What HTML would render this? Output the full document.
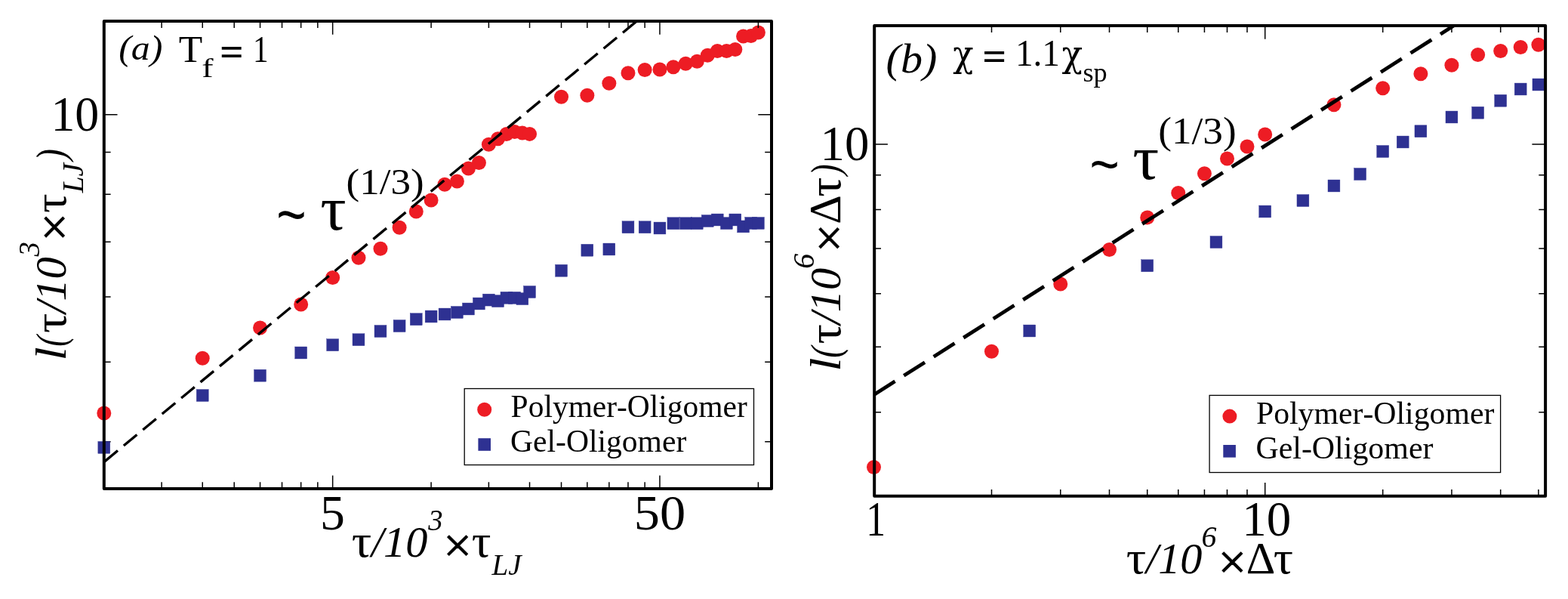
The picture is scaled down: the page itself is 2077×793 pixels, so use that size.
<!DOCTYPE html>
<html lang="en"><head><meta charset="utf-8"><title>Coarsening length scale</title>
<style>html,body{margin:0;padding:0;background:#fff}body{width:2077px;height:793px;overflow:hidden}svg{display:block}text{font-family:"Liberation Serif",serif;fill:#000}.i{font-style:italic}</style>
</head><body>
<svg width="2077" height="793" viewBox="0 0 2077 793">
<rect width="2077" height="793" fill="#fff"/>
<g id="panel-a">
<clipPath id="ca"><rect x="137.8" y="28.1" width="884.2" height="619.0"/></clipPath>
<path d="M137.80 584.63h8.8M1022.00 584.63h-8.8M137.80 479.21h8.8M1022.00 479.21h-8.8M137.80 393.08h8.8M1022.00 393.08h-8.8M137.80 320.25h8.8M1022.00 320.25h-8.8M137.80 257.17h8.8M1022.00 257.17h-8.8M137.80 201.52h8.8M1022.00 201.52h-8.8M137.80 151.75h17.7M1022.00 151.75h-17.7" stroke="#000" stroke-width="1.5" fill="none"/>
<rect x="129.85" y="584.45" width="15.9" height="15.9" fill="#2E3192" stroke="#2E3192" stroke-width="0.4"/>
<rect x="260.29" y="515.55" width="15.9" height="15.9" fill="#2E3192" stroke="#2E3192" stroke-width="0.4"/>
<rect x="336.59" y="489.25" width="15.9" height="15.9" fill="#2E3192" stroke="#2E3192" stroke-width="0.4"/>
<rect x="390.72" y="459.05" width="15.9" height="15.9" fill="#2E3192" stroke="#2E3192" stroke-width="0.4"/>
<rect x="432.71" y="448.75" width="15.9" height="15.9" fill="#2E3192" stroke="#2E3192" stroke-width="0.4"/>
<rect x="467.02" y="441.75" width="15.9" height="15.9" fill="#2E3192" stroke="#2E3192" stroke-width="0.4"/>
<rect x="496.03" y="430.55" width="15.9" height="15.9" fill="#2E3192" stroke="#2E3192" stroke-width="0.4"/>
<rect x="521.16" y="423.55" width="15.9" height="15.9" fill="#2E3192" stroke="#2E3192" stroke-width="0.4"/>
<rect x="543.32" y="414.75" width="15.9" height="15.9" fill="#2E3192" stroke="#2E3192" stroke-width="0.4"/>
<rect x="563.15" y="411.05" width="15.9" height="15.9" fill="#2E3192" stroke="#2E3192" stroke-width="0.4"/>
<rect x="581.09" y="408.05" width="15.9" height="15.9" fill="#2E3192" stroke="#2E3192" stroke-width="0.4"/>
<rect x="597.46" y="405.55" width="15.9" height="15.9" fill="#2E3192" stroke="#2E3192" stroke-width="0.4"/>
<rect x="612.52" y="401.05" width="15.9" height="15.9" fill="#2E3192" stroke="#2E3192" stroke-width="0.4"/>
<rect x="626.47" y="394.05" width="15.9" height="15.9" fill="#2E3192" stroke="#2E3192" stroke-width="0.4"/>
<rect x="639.45" y="389.15" width="15.9" height="15.9" fill="#2E3192" stroke="#2E3192" stroke-width="0.4"/>
<rect x="651.60" y="390.65" width="15.9" height="15.9" fill="#2E3192" stroke="#2E3192" stroke-width="0.4"/>
<rect x="663.00" y="386.35" width="15.9" height="15.9" fill="#2E3192" stroke="#2E3192" stroke-width="0.4"/>
<rect x="673.76" y="386.35" width="15.9" height="15.9" fill="#2E3192" stroke="#2E3192" stroke-width="0.4"/>
<rect x="683.93" y="387.65" width="15.9" height="15.9" fill="#2E3192" stroke="#2E3192" stroke-width="0.4"/>
<rect x="693.59" y="378.55" width="15.9" height="15.9" fill="#2E3192" stroke="#2E3192" stroke-width="0.4"/>
<rect x="735.58" y="350.30" width="15.9" height="15.9" fill="#2E3192" stroke="#2E3192" stroke-width="0.4"/>
<rect x="769.89" y="323.30" width="15.9" height="15.9" fill="#2E3192" stroke="#2E3192" stroke-width="0.4"/>
<rect x="798.89" y="322.05" width="15.9" height="15.9" fill="#2E3192" stroke="#2E3192" stroke-width="0.4"/>
<rect x="824.02" y="292.80" width="15.9" height="15.9" fill="#2E3192" stroke="#2E3192" stroke-width="0.4"/>
<rect x="846.19" y="292.80" width="15.9" height="15.9" fill="#2E3192" stroke="#2E3192" stroke-width="0.4"/>
<rect x="866.01" y="294.05" width="15.9" height="15.9" fill="#2E3192" stroke="#2E3192" stroke-width="0.4"/>
<rect x="883.95" y="287.80" width="15.9" height="15.9" fill="#2E3192" stroke="#2E3192" stroke-width="0.4"/>
<rect x="900.32" y="287.80" width="15.9" height="15.9" fill="#2E3192" stroke="#2E3192" stroke-width="0.4"/>
<rect x="915.39" y="287.80" width="15.9" height="15.9" fill="#2E3192" stroke="#2E3192" stroke-width="0.4"/>
<rect x="929.33" y="284.55" width="15.9" height="15.9" fill="#2E3192" stroke="#2E3192" stroke-width="0.4"/>
<rect x="942.31" y="283.05" width="15.9" height="15.9" fill="#2E3192" stroke="#2E3192" stroke-width="0.4"/>
<rect x="954.46" y="287.65" width="15.9" height="15.9" fill="#2E3192" stroke="#2E3192" stroke-width="0.4"/>
<rect x="965.87" y="283.05" width="15.9" height="15.9" fill="#2E3192" stroke="#2E3192" stroke-width="0.4"/>
<rect x="976.62" y="291.95" width="15.9" height="15.9" fill="#2E3192" stroke="#2E3192" stroke-width="0.4"/>
<rect x="986.80" y="287.55" width="15.9" height="15.9" fill="#2E3192" stroke="#2E3192" stroke-width="0.4"/>
<rect x="996.45" y="287.55" width="15.9" height="15.9" fill="#2E3192" stroke="#2E3192" stroke-width="0.4"/>
<circle cx="137.80" cy="547.00" r="9.5" fill="#ED1C24"/>
<circle cx="268.24" cy="474.20" r="9.5" fill="#ED1C24"/>
<circle cx="344.54" cy="434.00" r="9.5" fill="#ED1C24"/>
<circle cx="398.67" cy="403.00" r="9.5" fill="#ED1C24"/>
<circle cx="440.66" cy="367.50" r="9.5" fill="#ED1C24"/>
<circle cx="474.97" cy="341.25" r="9.5" fill="#ED1C24"/>
<circle cx="503.98" cy="329.25" r="9.5" fill="#ED1C24"/>
<circle cx="529.11" cy="301.25" r="9.5" fill="#ED1C24"/>
<circle cx="551.27" cy="280.00" r="9.5" fill="#ED1C24"/>
<circle cx="571.10" cy="265.00" r="9.5" fill="#ED1C24"/>
<circle cx="589.04" cy="244.25" r="9.5" fill="#ED1C24"/>
<circle cx="605.41" cy="240.00" r="9.5" fill="#ED1C24"/>
<circle cx="620.47" cy="223.00" r="9.5" fill="#ED1C24"/>
<circle cx="634.42" cy="215.50" r="9.5" fill="#ED1C24"/>
<circle cx="647.40" cy="191.25" r="9.5" fill="#ED1C24"/>
<circle cx="659.55" cy="183.75" r="9.5" fill="#ED1C24"/>
<circle cx="670.95" cy="177.50" r="9.5" fill="#ED1C24"/>
<circle cx="681.71" cy="174.50" r="9.5" fill="#ED1C24"/>
<circle cx="691.88" cy="176.10" r="9.5" fill="#ED1C24"/>
<circle cx="701.54" cy="177.40" r="9.5" fill="#ED1C24"/>
<circle cx="743.53" cy="128.25" r="9.5" fill="#ED1C24"/>
<circle cx="777.84" cy="126.25" r="9.5" fill="#ED1C24"/>
<circle cx="806.84" cy="110.25" r="9.5" fill="#ED1C24"/>
<circle cx="831.97" cy="96.75" r="9.5" fill="#ED1C24"/>
<circle cx="854.14" cy="92.50" r="9.5" fill="#ED1C24"/>
<circle cx="873.96" cy="92.00" r="9.5" fill="#ED1C24"/>
<circle cx="891.90" cy="88.75" r="9.5" fill="#ED1C24"/>
<circle cx="908.27" cy="84.25" r="9.5" fill="#ED1C24"/>
<circle cx="923.34" cy="81.25" r="9.5" fill="#ED1C24"/>
<circle cx="937.28" cy="73.25" r="9.5" fill="#ED1C24"/>
<circle cx="950.26" cy="67.50" r="9.5" fill="#ED1C24"/>
<circle cx="962.41" cy="67.50" r="9.5" fill="#ED1C24"/>
<circle cx="973.82" cy="65.50" r="9.5" fill="#ED1C24"/>
<circle cx="984.57" cy="48.00" r="9.5" fill="#ED1C24"/>
<circle cx="994.75" cy="47.50" r="9.5" fill="#ED1C24"/>
<circle cx="1004.40" cy="43.00" r="9.5" fill="#ED1C24"/>
<path d="M214.10 28.10v8.8M214.10 647.10v-8.8M268.24 28.10v8.8M268.24 647.10v-8.8M310.23 28.10v8.8M310.23 647.10v-8.8M344.54 28.10v8.8M344.54 647.10v-8.8M373.54 28.10v8.8M373.54 647.10v-8.8M398.67 28.10v8.8M398.67 647.10v-8.8M420.84 28.10v8.8M420.84 647.10v-8.8M571.10 28.10v8.8M571.10 647.10v-8.8M647.40 28.10v8.8M647.40 647.10v-8.8M701.54 28.10v8.8M701.54 647.10v-8.8M743.53 28.10v8.8M743.53 647.10v-8.8M777.84 28.10v8.8M777.84 647.10v-8.8M806.84 28.10v8.8M806.84 647.10v-8.8M831.97 28.10v8.8M831.97 647.10v-8.8M854.14 28.10v8.8M854.14 647.10v-8.8M1004.40 28.10v8.8M1004.40 647.10v-8.8M440.66 28.10v17.7M440.66 647.10v-17.7M873.96 28.10v17.7M873.96 647.10v-17.7" stroke="#000" stroke-width="1.5" fill="none"/>
<path d="M137.8 611.6L843.4 28.0" stroke="#000" stroke-width="3.4" stroke-dasharray="22.8 10.2" stroke-dashoffset="-0.8" fill="none" clip-path="url(#ca)"/>
<rect x="137.80" y="28.10" width="884.20" height="619.00" fill="none" stroke="#000" stroke-width="4.0" stroke-linejoin="round"/>
<text transform="translate(67.38 173.07) scale(0.9854 1)" font-size="64.91" style="font-family:'Liberation Serif',serif;font-kerning:none">10</text>
<text transform="translate(423.88 700.55) scale(0.9891 1)" font-size="66.51" style="font-family:'Liberation Serif',serif;font-kerning:none">5</text>
<text transform="translate(839.73 700.56) scale(1.0369 1)" font-size="65.95" style="font-family:'Liberation Serif',serif;font-kerning:none">50</text>
<text transform="translate(157.15 79.00) scale(1.0622 1)" font-size="46.98" style="font-family:'Liberation Serif',serif;font-kerning:none;font-style:italic">(a)</text>
<text transform="translate(236.77 81.70) scale(1.0105 1)" font-size="51.01" style="font-family:'Liberation Serif',serif;font-kerning:none">T</text>
<text transform="translate(267.19 101.90) scale(1.3163 1)" font-size="34.94" style="font-family:'Liberation Serif',serif;font-kerning:none">f</text>
<text transform="translate(291.03 85.88) scale(1.0670 1)" font-size="52.22" style="font-family:'Liberation Serif',serif;font-kerning:none;font-weight:bold">=</text>
<text transform="translate(334.98 81.70) scale(0.7997 1)" font-size="51.50" style="font-family:'Liberation Serif',serif;font-kerning:none">1</text>
<text transform="translate(366.27 313.48) scale(0.7885 1)" font-size="85.47" style="font-family:'Liberation Sans',sans-serif;font-kerning:none">~</text>
<text transform="translate(424.32 304.39) scale(1.0283 1)" font-size="83.41" style="font-family:'Liberation Serif',serif;font-kerning:none">τ</text>
<text transform="translate(458.57 256.58) scale(1.0827 1)" font-size="48.97" style="font-family:'Liberation Serif',serif;font-kerning:none">(1/3)</text>
<text transform="translate(465.75 737.01) scale(1.0883 1)" font-size="60.59" style="font-family:'Liberation Serif',serif;font-kerning:none">τ</text>
<text transform="translate(491.88 737.14) scale(1.0096 1)" font-size="57.79" style="font-family:'Liberation Serif',serif;font-kerning:none;font-style:italic">/10</text>
<text transform="translate(567.16 702.10) scale(0.9439 1)" font-size="41.08" style="font-family:'Liberation Serif',serif;font-kerning:none;font-style:italic">3</text>
<text transform="translate(587.31 744.42) scale(1.0238 1)" font-size="65.32" style="font-family:'Liberation Serif',serif;font-kerning:none" stroke="#000" stroke-width="0.8" stroke-linejoin="round">×</text>
<text transform="translate(624.69 737.01) scale(1.0560 1)" font-size="60.59" style="font-family:'Liberation Serif',serif;font-kerning:none">τ</text>
<text transform="translate(651.46 760.60) scale(0.9592 1)" font-size="40.78" style="font-family:'Liberation Serif',serif;font-kerning:none;font-style:italic">LJ</text>
<g transform="translate(86.7 439.5) rotate(-90)">
<text transform="translate(-38.07 0.00) scale(1.1356 1)" font-size="57.36" style="font-family:'Liberation Serif',serif;font-kerning:none;font-style:italic">l</text>
<text transform="translate(-19.13 -1.15) scale(0.8024 1)" font-size="54.26" style="font-family:'Liberation Serif',serif;font-kerning:none;font-style:italic">(</text>
<text transform="translate(-1.45 -0.19) scale(1.0883 1)" font-size="60.59" style="font-family:'Liberation Serif',serif;font-kerning:none">τ</text>
<text transform="translate(24.68 -0.06) scale(1.0096 1)" font-size="57.79" style="font-family:'Liberation Serif',serif;font-kerning:none;font-style:italic">/10</text>
<text transform="translate(99.96 -35.10) scale(0.9439 1)" font-size="41.08" style="font-family:'Liberation Serif',serif;font-kerning:none;font-style:italic">3</text>
<text transform="translate(120.11 7.22) scale(1.0238 1)" font-size="65.32" style="font-family:'Liberation Serif',serif;font-kerning:none" stroke="#000" stroke-width="0.8" stroke-linejoin="round">×</text>
<text transform="translate(157.49 -0.19) scale(1.0560 1)" font-size="60.59" style="font-family:'Liberation Serif',serif;font-kerning:none">τ</text>
<text transform="translate(184.26 23.40) scale(0.9592 1)" font-size="40.78" style="font-family:'Liberation Serif',serif;font-kerning:none;font-style:italic">LJ</text>
<text transform="translate(227.08 -1.15) scale(0.8487 1)" font-size="54.26" style="font-family:'Liberation Serif',serif;font-kerning:none;font-style:italic">)</text>
</g>
<rect x="615.2" y="514.5" width="383.30" height="101.00" fill="#fff" stroke="#000" stroke-width="1.3"/>
<circle cx="641.7" cy="542.2" r="9.5" fill="#ED1C24"/>
<rect x="633.40" y="580.20" width="16.6" height="16.6" fill="#2E3192"/>
<text transform="translate(676.61 551.97) scale(0.9694 1)" font-size="42.76" style="font-family:'Liberation Serif',serif;font-kerning:none">Polymer-Oligomer</text>
<text transform="translate(676.09 597.67) scale(0.9725 1)" font-size="42.76" style="font-family:'Liberation Serif',serif;font-kerning:none">Gel-Oligomer</text>
</g>
<g id="panel-b">
<clipPath id="cb"><rect x="1158.2" y="34.1" width="888.8999999999999" height="622.65"/></clipPath>
<path d="M1313.49 34.10v8.8M1313.49 656.75v-8.8M1404.74 34.10v8.8M1404.74 656.75v-8.8M1469.49 34.10v8.8M1469.49 656.75v-8.8M1519.71 34.10v8.8M1519.71 656.75v-8.8M1560.74 34.10v8.8M1560.74 656.75v-8.8M1595.43 34.10v8.8M1595.43 656.75v-8.8M1625.48 34.10v8.8M1625.48 656.75v-8.8M1651.99 34.10v8.8M1651.99 656.75v-8.8M1831.69 34.10v8.8M1831.69 656.75v-8.8M1922.94 34.10v8.8M1922.94 656.75v-8.8M1987.69 34.10v8.8M1987.69 656.75v-8.8M2037.91 34.10v8.8M2037.91 656.75v-8.8M1675.70 34.10v17.7M1675.70 656.75v-17.7" stroke="#000" stroke-width="1.5" fill="none"/>
<path d="M1158.20 545.76h8.8M2047.10 545.76h-8.8M1158.20 459.37h8.8M2047.10 459.37h-8.8M1158.20 388.78h8.8M2047.10 388.78h-8.8M1158.20 329.10h8.8M2047.10 329.10h-8.8M1158.20 277.40h8.8M2047.10 277.40h-8.8M1158.20 231.79h8.8M2047.10 231.79h-8.8M1158.20 191.00h17.7M2047.10 191.00h-17.7" stroke="#000" stroke-width="1.5" fill="none"/>
<rect x="1355.76" y="430.05" width="15.9" height="15.9" fill="#2E3192" stroke="#2E3192" stroke-width="0.4"/>
<rect x="1511.76" y="343.80" width="15.9" height="15.9" fill="#2E3192" stroke="#2E3192" stroke-width="0.4"/>
<rect x="1603.01" y="312.55" width="15.9" height="15.9" fill="#2E3192" stroke="#2E3192" stroke-width="0.4"/>
<rect x="1667.75" y="272.05" width="15.9" height="15.9" fill="#2E3192" stroke="#2E3192" stroke-width="0.4"/>
<rect x="1717.97" y="257.55" width="15.9" height="15.9" fill="#2E3192" stroke="#2E3192" stroke-width="0.4"/>
<rect x="1759.00" y="238.05" width="15.9" height="15.9" fill="#2E3192" stroke="#2E3192" stroke-width="0.4"/>
<rect x="1793.69" y="222.55" width="15.9" height="15.9" fill="#2E3192" stroke="#2E3192" stroke-width="0.4"/>
<rect x="1823.74" y="192.55" width="15.9" height="15.9" fill="#2E3192" stroke="#2E3192" stroke-width="0.4"/>
<rect x="1850.25" y="180.05" width="15.9" height="15.9" fill="#2E3192" stroke="#2E3192" stroke-width="0.4"/>
<rect x="1873.96" y="165.80" width="15.9" height="15.9" fill="#2E3192" stroke="#2E3192" stroke-width="0.4"/>
<rect x="1914.99" y="147.05" width="15.9" height="15.9" fill="#2E3192" stroke="#2E3192" stroke-width="0.4"/>
<rect x="1949.69" y="141.30" width="15.9" height="15.9" fill="#2E3192" stroke="#2E3192" stroke-width="0.4"/>
<rect x="1979.74" y="125.30" width="15.9" height="15.9" fill="#2E3192" stroke="#2E3192" stroke-width="0.4"/>
<rect x="2006.24" y="110.05" width="15.9" height="15.9" fill="#2E3192" stroke="#2E3192" stroke-width="0.4"/>
<rect x="2029.96" y="104.05" width="15.9" height="15.9" fill="#2E3192" stroke="#2E3192" stroke-width="0.4"/>
<circle cx="1157.50" cy="618.50" r="9.5" fill="#ED1C24"/>
<circle cx="1313.49" cy="465.25" r="9.5" fill="#ED1C24"/>
<circle cx="1404.74" cy="376.00" r="9.5" fill="#ED1C24"/>
<circle cx="1469.49" cy="330.50" r="9.5" fill="#ED1C24"/>
<circle cx="1519.71" cy="288.00" r="9.5" fill="#ED1C24"/>
<circle cx="1560.74" cy="255.50" r="9.5" fill="#ED1C24"/>
<circle cx="1595.43" cy="229.75" r="9.5" fill="#ED1C24"/>
<circle cx="1625.48" cy="210.00" r="9.5" fill="#ED1C24"/>
<circle cx="1651.99" cy="194.00" r="9.5" fill="#ED1C24"/>
<circle cx="1675.70" cy="178.00" r="9.5" fill="#ED1C24"/>
<circle cx="1766.95" cy="138.75" r="9.5" fill="#ED1C24"/>
<circle cx="1831.69" cy="116.75" r="9.5" fill="#ED1C24"/>
<circle cx="1881.91" cy="97.75" r="9.5" fill="#ED1C24"/>
<circle cx="1922.94" cy="86.25" r="9.5" fill="#ED1C24"/>
<circle cx="1957.64" cy="72.50" r="9.5" fill="#ED1C24"/>
<circle cx="1987.69" cy="67.50" r="9.5" fill="#ED1C24"/>
<circle cx="2014.19" cy="62.50" r="9.5" fill="#ED1C24"/>
<circle cx="2037.91" cy="59.25" r="9.5" fill="#ED1C24"/>
<path d="M1158.2 522.2L1928.7 32.0" stroke="#000" stroke-width="4.8" stroke-dasharray="32.9 13.9" stroke-dashoffset="0.5" fill="none" clip-path="url(#cb)"/>
<rect x="1158.20" y="34.10" width="888.90" height="622.65" fill="none" stroke="#000" stroke-width="4.0" stroke-linejoin="round"/>
<text transform="translate(1086.51 212.46) scale(0.9842 1)" font-size="65.80" style="font-family:'Liberation Serif',serif;font-kerning:none">10</text>
<text transform="translate(1147.26 709.20) scale(0.7955 1)" font-size="64.98" style="font-family:'Liberation Serif',serif;font-kerning:none">1</text>
<text transform="translate(1645.29 709.27) scale(1.0001 1)" font-size="64.98" style="font-family:'Liberation Serif',serif;font-kerning:none">10</text>
<text transform="translate(1173.56 96.38) scale(1.0555 1)" font-size="55.03" style="font-family:'Liberation Serif',serif;font-kerning:none;font-style:italic">(b)</text>
<text transform="translate(1262.35 87.62) scale(0.9353 1)" font-size="48.06" style="font-family:'DejaVu Serif',serif;font-kerning:none">χ</text>
<text transform="translate(1301.20 92.38) scale(1.0753 1)" font-size="52.22" style="font-family:'Liberation Serif',serif;font-kerning:none;font-weight:bold">=</text>
<text transform="translate(1344.89 87.19) scale(0.9385 1)" font-size="50.42" style="font-family:'Liberation Serif',serif;font-kerning:none">1.1</text>
<text transform="translate(1406.44 87.62) scale(0.9462 1)" font-size="48.06" style="font-family:'DejaVu Serif',serif;font-kerning:none">χ</text>
<text transform="translate(1434.51 108.46) scale(1.0365 1)" font-size="34.94" style="font-family:'Liberation Serif',serif;font-kerning:none">sp</text>
<text transform="translate(1443.38 243.80) scale(0.8680 1)" font-size="77.40" style="font-family:'Liberation Sans',sans-serif;font-kerning:none">~</text>
<text transform="translate(1500.18 236.99) scale(1.0531 1)" font-size="82.77" style="font-family:'Liberation Serif',serif;font-kerning:none">τ</text>
<text transform="translate(1534.16 190.43) scale(1.0727 1)" font-size="49.63" style="font-family:'Liberation Serif',serif;font-kerning:none">(1/3)</text>
<text transform="translate(1491.85 759.01) scale(1.0883 1)" font-size="60.59" style="font-family:'Liberation Serif',serif;font-kerning:none">τ</text>
<text transform="translate(1517.98 759.14) scale(1.0096 1)" font-size="57.79" style="font-family:'Liberation Serif',serif;font-kerning:none;font-style:italic">/10</text>
<text transform="translate(1591.59 724.10) scale(0.9693 1)" font-size="41.08" style="font-family:'Liberation Serif',serif;font-kerning:none;font-style:italic">6</text>
<text transform="translate(1613.41 766.42) scale(1.0238 1)" font-size="65.32" style="font-family:'Liberation Serif',serif;font-kerning:none" stroke="#000" stroke-width="0.8" stroke-linejoin="round">×</text>
<text transform="translate(1650.72 759.20) scale(1.0143 1)" font-size="59.08" style="font-family:'Liberation Serif',serif;font-kerning:none">Δ</text>
<text transform="translate(1686.66 759.00) scale(1.0604 1)" font-size="61.65" style="font-family:'Liberation Serif',serif;font-kerning:none">τ</text>
<g transform="translate(1112.9 454.1) rotate(-90)">
<text transform="translate(-37.59 0.00) scale(1.1442 1)" font-size="57.36" style="font-family:'Liberation Serif',serif;font-kerning:none;font-style:italic">l</text>
<text transform="translate(-19.58 -1.15) scale(0.8288 1)" font-size="54.26" style="font-family:'Liberation Serif',serif;font-kerning:none;font-style:italic">(</text>
<text transform="translate(-1.45 -0.19) scale(1.0883 1)" font-size="60.59" style="font-family:'Liberation Serif',serif;font-kerning:none">τ</text>
<text transform="translate(24.68 -0.06) scale(1.0096 1)" font-size="57.79" style="font-family:'Liberation Serif',serif;font-kerning:none;font-style:italic">/10</text>
<text transform="translate(98.29 -35.10) scale(0.9693 1)" font-size="41.08" style="font-family:'Liberation Serif',serif;font-kerning:none;font-style:italic">6</text>
<text transform="translate(120.11 7.22) scale(1.0238 1)" font-size="65.32" style="font-family:'Liberation Serif',serif;font-kerning:none" stroke="#000" stroke-width="0.8" stroke-linejoin="round">×</text>
<text transform="translate(157.42 0.00) scale(1.0143 1)" font-size="59.08" style="font-family:'Liberation Serif',serif;font-kerning:none">Δ</text>
<text transform="translate(193.36 -0.20) scale(1.0604 1)" font-size="61.65" style="font-family:'Liberation Serif',serif;font-kerning:none">τ</text>
<text transform="translate(222.06 -1.15) scale(0.8013 1)" font-size="54.26" style="font-family:'Liberation Serif',serif;font-kerning:none;font-style:italic">)</text>
</g>
<rect x="1602.1" y="523.4" width="385.50" height="102.10" fill="#fff" stroke="#000" stroke-width="1.3"/>
<circle cx="1628.9" cy="551.1" r="9.5" fill="#ED1C24"/>
<rect x="1620.30" y="589.00" width="16.6" height="16.6" fill="#2E3192"/>
<text transform="translate(1663.90 561.22) scale(0.9719 1)" font-size="42.98" style="font-family:'Liberation Serif',serif;font-kerning:none">Polymer-Oligomer</text>
<text transform="translate(1663.38 606.52) scale(0.9755 1)" font-size="42.98" style="font-family:'Liberation Serif',serif;font-kerning:none">Gel-Oligomer</text>
</g>
</svg></body></html>
